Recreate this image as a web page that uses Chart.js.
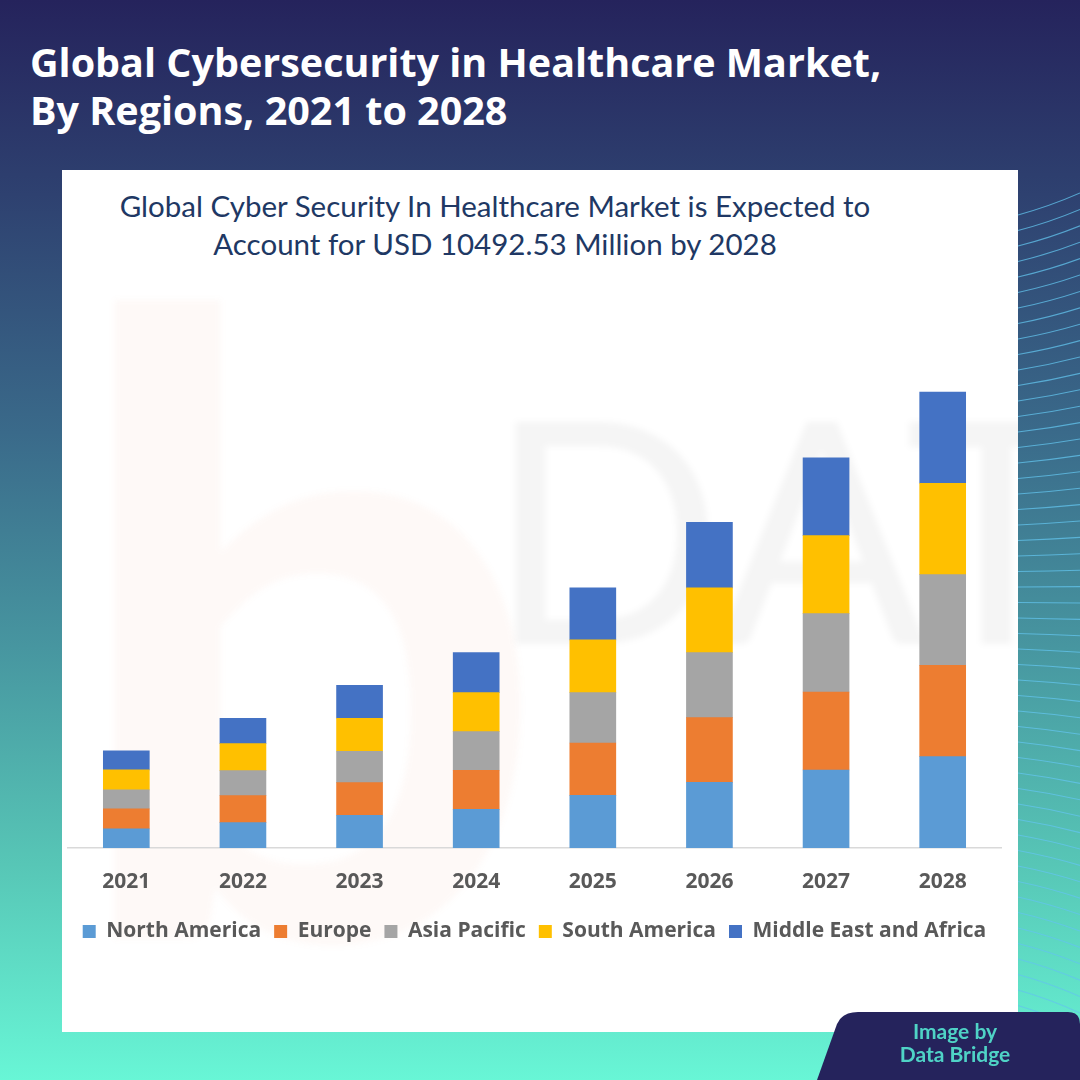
<!DOCTYPE html>
<html>
<head>
<meta charset="utf-8">
<script src="https://cdn.jsdelivr.net/npm/chart.js@4.4.1/dist/chart.umd.min.js"></script>
<style>
  html, body { margin: 0; padding: 0; }
  body {
    width: 1080px; height: 1080px; overflow: hidden; position: relative;
    background: linear-gradient(180deg, #25235c 0%, #2e4170 18%, #3a6a8a 40%, #4796a0 60%, #57c6b6 80%, #68f6d6 100%);
    font-family: "Lato", sans-serif;
  }
  #heading {
    position: absolute; left: 30px; top: 38px; margin: 0;
    color: #fff; font-family: "Open Sans", sans-serif; font-weight: 700; font-size: 39.5px; line-height: 48px;
  }
  #waves { position: absolute; left: 0; top: 0; }
  #panel {
    position: absolute; left: 62px; top: 170px; width: 956px; height: 862px;
    background: #fff; overflow: hidden;
  }
  .mark { position: absolute; white-space: nowrap; pointer-events: none; line-height: 1; }
  #subtitle {
    position: absolute; left: 0; top: 17px; width: 866px; text-align: center;
    color: #203864; font-size: 29.5px; line-height: 38px;
  }
  #panel canvas { position: relative; }
  #badge { position: absolute; left: 0; top: 0; }
  #credit {
    position: absolute; left: 880px; top: 1019px; width: 150px; text-align: center;
    color: #4fd3c6; font-weight: 700; font-size: 21px; line-height: 23px;
  }
</style>
</head>
<body>
<svg id="waves" width="1080" height="1080"></svg>
<h1 id="heading">Global Cybersecurity in Healthcare Market,<br>By Regions, 2021 to 2028</h1>
<div id="panel">
  <div class="mark" style="left:0px;top:-80px;font:700 860px Lato;color:rgba(240,120,60,0.045);filter:blur(3px);">b</div>
  <div class="mark" style="left:425px;top:168px;font:400 310px Lato;color:rgba(0,0,0,0.04);filter:blur(3px);">DATA B</div>
  <div id="subtitle">Global Cyber Security In Healthcare Market is Expected to<br>Account for USD 10492.53 Million by 2028</div>
  <canvas id="chart" width="956" height="862"></canvas>
</div>
<svg id="badge" width="1080" height="1080">
  <path d="M817,1080 L837,1024 Q842,1012 858,1012 L1068,1012 Q1080,1012 1080,1024 L1080,1080 Z" fill="#25235c"/>
</svg>
<div id="credit">Image by<br>Data Bridge</div>
<script>
// USD million
const years = ['2021', '2022', '2023', '2024', '2025', '2026', '2027', '2028'];
const northAmerica = [440, 583, 753, 891, 1211, 1511, 1796, 2103];
const europe = [461, 622, 751, 898, 1207, 1490, 1796, 2103];
const asiaPacific = [438, 576, 723, 889, 1158, 1497, 1803, 2089];
const southAmerica = [461, 622, 760, 898, 1214, 1490, 1796, 2103];
const middleEastAfrica = [438, 585, 760, 921, 1198, 1511, 1789, 2096];

// decorative line fan on the right edge
const svg = document.getElementById('waves');
let paths = '';
for (let i = 0; i < 52; i++) {
  const y0 = 215 + i * 15.5;
  const slope = -22 + i * 0.9;
  paths += '<path d="M1018,' + y0 + ' Q1050,' + (y0 + slope * 0.4) + ' 1080,' + (y0 + slope) +
    '" stroke="#63c4ee" stroke-opacity="0.75" stroke-width="1.1" fill="none"/>';
}
svg.innerHTML = paths;

new Chart(document.getElementById('chart'), {
  type: 'bar',
  data: {
    labels: years,
    datasets: [
      { label: 'North America', data: northAmerica, backgroundColor: '#5b9bd5' },
      { label: 'Europe', data: europe, backgroundColor: '#ed7d31' },
      { label: 'Asia Pacific', data: asiaPacific, backgroundColor: '#a5a5a5' },
      { label: 'South America', data: southAmerica, backgroundColor: '#ffc000' },
      { label: 'Middle East and Africa', data: middleEastAfrica, backgroundColor: '#4472c4' }
    ]
  },
  options: {
    responsive: false,
    animation: false,
    layout: { padding: { left: 6, right: 17, top: 122, bottom: 80 } },
    datasets: { bar: { barThickness: 46 } },
    scales: {
      x: {
        stacked: true,
        grid: { display: false, drawTicks: false },
        border: { display: true, color: '#d9d9d9', width: 1.5 },
        ticks: { padding: 21, color: '#595959', font: { family: 'Open Sans', size: 21, weight: '700' } },
        afterFit: (scale) => { scale.height = 60; }
      },
      y: { stacked: true, display: false, min: 0, max: 12800 }
    },
    plugins: {
      legend: {
        position: 'bottom',
        labels: {
          boxWidth: 13, boxHeight: 13, padding: 13, color: '#595959',
          font: { family: 'Open Sans', size: 21, weight: '700' }
        }
      },
      tooltip: { enabled: false }
    }
  }
});
</script>
</body>
</html>
